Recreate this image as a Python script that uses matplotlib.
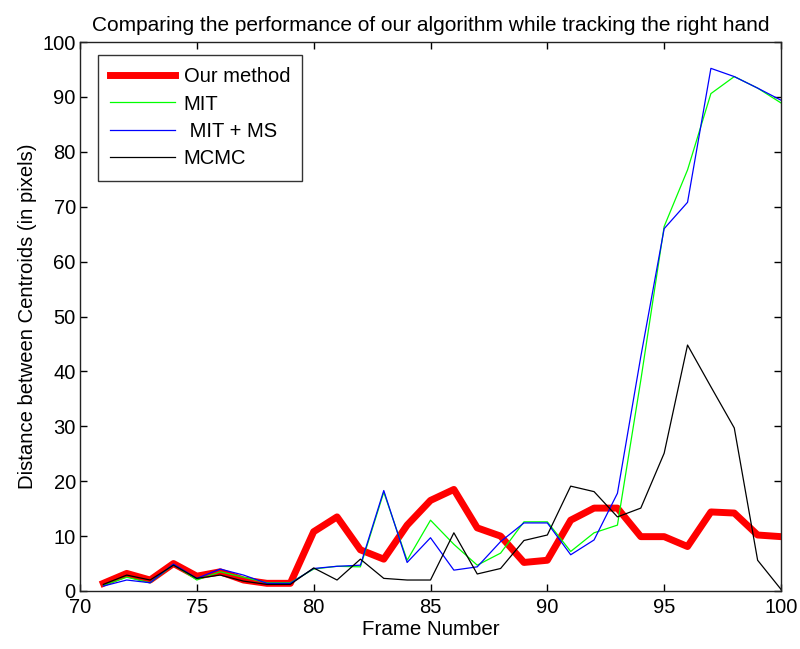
import matplotlib
matplotlib.use("Agg")
import matplotlib.pyplot as plt

frames = list(range(71, 101))
our_method = [1.4, 3.2, 2.0, 5.0, 2.7, 3.5, 2.0, 1.4, 1.4, 10.8, 13.5, 7.5, 5.8, 12.0, 16.5, 18.5, 11.5, 10.0, 5.2, 5.6, 12.9, 15.1, 15.1, 9.9, 9.9, 8.1, 14.4, 14.2, 10.2, 9.9]
mit = [1.0, 2.5, 1.5, 4.8, 2.0, 3.5, 2.5, 1.5, 1.5, 4.0, 4.5, 4.4, 18.0, 5.6, 12.9, 8.5, 4.7, 6.9, 12.6, 12.6, 7.2, 10.6, 12.0, 38.4, 66.4, 76.7, 90.6, 93.7, 91.6, 88.9]
mit_ms = [0.9, 2.0, 1.5, 4.9, 2.3, 4.0, 2.9, 1.4, 1.4, 4.1, 4.5, 4.7, 18.3, 5.2, 9.7, 3.8, 4.4, 9.0, 12.4, 12.4, 6.6, 9.3, 17.8, 42.7, 66.0, 70.8, 95.2, 93.7, 91.6, 89.4]
mcmc = [1.2, 2.9, 2.0, 4.7, 2.3, 2.9, 1.8, 1.2, 1.2, 4.2, 2.0, 5.8, 2.3, 2.0, 2.0, 10.6, 3.1, 4.1, 9.2, 10.2, 19.1, 18.1, 13.5, 15.1, 25.1, 44.8, 37.2, 29.7, 5.6, 0.3]

xticks = [70, 75, 80, 85, 90, 95, 100]
yticks = list(range(0, 101, 10))

plt.rcParams['font.family'] = ['Liberation Sans', 'DejaVu Sans']

fig = plt.figure(figsize=(8.0, 6.49), dpi=100)
ax = fig.add_axes([80/800, 1-591/649, 701/800, 549/649])

ax.plot(frames, our_method, color='#ff0000', lw=5, label='Our method', solid_joinstyle='round')
ax.plot(frames, mit, color='#00ff00', lw=0.9, label='MIT')
ax.plot(frames, mit_ms, color='#0000ff', lw=0.9, label=' MIT + MS')
ax.plot(frames, mcmc, color='black', lw=0.9, label='MCMC')

ax.set_xlim(70, 100)
ax.set_ylim(0, 100)
ax.set_xticks(xticks)
ax.set_yticks(yticks)
ax.tick_params(direction='in', length=5, width=1, labelsize=14.5, top=True, right=True)
ax.tick_params(axis='x', pad=5)
ax.tick_params(axis='y', pad=3)
for s in ax.spines.values():
    s.set_linewidth(1.0)
    s.set_color('#222222')

ax.set_title('Comparing the performance of our algorithm while tracking the right hand', fontsize=15, pad=8)
ax.set_xlabel('Frame Number', fontsize=14.8, labelpad=2)
ax.set_ylabel('Distance between Centroids (in pixels)', fontsize=14.6, labelpad=4)

leg = ax.legend(loc='upper left', bbox_to_anchor=(18/701, 1-13/549), fontsize=14.5, frameon=True,
                fancybox=False, edgecolor='black', handlelength=3.2, borderpad=0.6,
                labelspacing=0.42, handletextpad=0.45, borderaxespad=0)
leg.get_frame().set_linewidth(1.0)

fig.savefig('out.png', dpi=100)
